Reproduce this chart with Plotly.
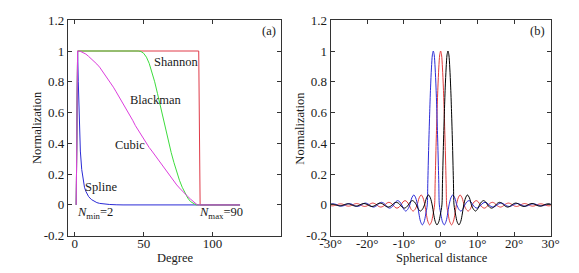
import plotly.graph_objects as go

# ---------------- Panel (a) data ----------------
shannon_deg = [1, 2, 90, 91, 120]
shannon_val = [0, 1, 1, 0, 0]

spline_deg = [1, 2, 2.5, 3, 3.5, 4, 5, 6, 7, 8, 9, 10, 12, 14, 16, 18, 20, 25, 30, 35, 120]
spline_val = [0, 1, 0.8, 0.6, 0.45, 0.35, 0.23, 0.155, 0.115, 0.088, 0.068, 0.054, 0.035,
              0.023, 0.015, 0.01, 0.007, 0.003, 0.001, 0, 0]

blackman_deg = [1, 2, 46, 48, 50, 52, 54, 56, 58, 60, 62, 64, 66, 68, 70, 72, 74, 76, 78,
                80, 82, 84, 86, 88, 120]
blackman_val = [0, 1, 1, 0.997, 0.985, 0.96, 0.92, 0.865, 0.8, 0.725, 0.645, 0.565, 0.485,
                0.41, 0.34, 0.275, 0.215, 0.16, 0.115, 0.075, 0.045, 0.022, 0.008, 0, 0]

cubic_deg = [1, 2, 4, 6, 8, 10, 12, 14, 16, 18, 20, 22, 24, 26, 28, 30, 32, 34, 36, 38, 40,
             42, 44, 46, 48, 50, 52, 54, 56, 58, 60, 62, 64, 66, 68, 70, 72, 74, 76, 78, 80,
             82, 84, 86, 88, 89, 120]
cubic_val = [0, 1, 0.998, 0.99, 0.98, 0.965, 0.95, 0.935, 0.915, 0.895, 0.87, 0.845, 0.82,
             0.795, 0.765, 0.735, 0.705, 0.675, 0.645, 0.61, 0.58, 0.55, 0.515, 0.485, 0.455,
             0.425, 0.398, 0.373, 0.35, 0.325, 0.3, 0.275, 0.25, 0.225, 0.2, 0.178, 0.155,
             0.13, 0.11, 0.09, 0.072, 0.055, 0.038, 0.022, 0.008, 0, 0]

# ---------------- Panel (b) data ----------------
kernel_r = [0, 0.25, 0.5, 0.75, 1.0, 1.25, 1.5, 1.65, 2.1, 2.5, 3.0, 3.5, 3.9, 4.3, 4.8, 5.3,
            5.85, 6.4, 6.95, 7.5, 8.05, 8.6, 9.15, 9.7, 10.25, 10.8, 11.35, 11.9, 12.45, 13.0,
            13.55, 14.1, 14.65, 15.2, 15.75, 16.3, 16.85, 17.4, 17.95, 18.5, 19.05, 19.6,
            20.15, 20.7, 21.25, 21.8, 22.35, 22.9, 23.45, 24.0, 24.55, 25.1, 25.65, 26.2,
            26.75, 27.3, 27.85, 28.4, 28.95, 29.5, 30.05, 30.6, 31.15, 31.7, 32.25, 32.8]
kernel_v = [1.0, 0.975, 0.89, 0.76, 0.585, 0.38, 0.14, 0.0, -0.066, -0.11, -0.13, -0.106,
            -0.059, 0.0, 0.046, 0.065, 0.046, 0.0, -0.028, -0.04, -0.028, 0.0, 0.02, 0.028,
            0.02, 0.0, -0.015, -0.021, -0.015, 0.0, 0.012, 0.017, 0.012, 0.0, -0.01, -0.014,
            -0.01, 0.0, 0.0085, 0.012, 0.0085, 0.0, -0.007, -0.01, -0.007, 0.0, 0.0064, 0.009,
            0.0064, 0.0, -0.0057, -0.008, -0.0057, 0.0, 0.005, 0.007, 0.005, 0.0, -0.0042,
            -0.006, -0.0042, 0.0, 0.0035, 0.005, 0.0035, 0.0]
kernel_centers = [0, -2, 2]
kernel_colors = ["#e03a3a", "#2b2bd6", "#000000"]

y_ticks = [-0.2, 0, 0.2, 0.4, 0.6, 0.8, 1.0, 1.2]
y_ticktext = ["-0.2", "0", "0.2", "0.4", "0.6", "0.8", "1", "1.2"]
xa_ticks = [0, 50, 100]
xa_ticktext = ["0", "50", "100"]
xb_ticks = [-30, -20, -10, 0, 10, 20, 30]
xb_ticktext = ["-30°", "-20°", "-10°", "0°", "10°", "20°", "30°"]

FONT = "Liberation Serif"
TXT = "#1a1a1a"

fig = go.Figure()

# panel (a) traces (order: red, blue, green, magenta)
fig.add_trace(go.Scatter(x=shannon_deg, y=shannon_val, mode="lines",
                         line=dict(color="#e03a48", width=1), xaxis="x", yaxis="y"))
fig.add_trace(go.Scatter(x=spline_deg, y=spline_val, mode="lines",
                         line=dict(color="#2b2bd6", width=1), xaxis="x", yaxis="y"))
fig.add_trace(go.Scatter(x=blackman_deg, y=blackman_val, mode="lines",
                         line=dict(color="#3ddc3d", width=1), xaxis="x", yaxis="y"))
fig.add_trace(go.Scatter(x=cubic_deg, y=cubic_val, mode="lines",
                         line=dict(color="#dd3ddd", width=1), xaxis="x", yaxis="y"))

# panel (b) traces
kx = [-r for r in reversed(kernel_r[1:])] + kernel_r
kv = list(reversed(kernel_v[1:])) + kernel_v
for c, col in zip(kernel_centers, kernel_colors):
    fig.add_trace(go.Scatter(x=[c + r for r in kx], y=kv, mode="lines",
                             line=dict(color=col, width=1, shape="spline", smoothing=0.8),
                             xaxis="x2", yaxis="y2"))

W, H = 579, 273
ydom = [(H - 242) / H, (H - 14) / H]

axis_common = dict(showline=True, linecolor="#333333", linewidth=1, mirror="ticks",
                   ticks="inside", ticklen=4, tickcolor="#333333", showgrid=False,
                   zeroline=False, tickfont=dict(family=FONT, size=13, color=TXT))

fig.update_layout(
    width=W, height=H, margin=dict(l=0, r=0, t=0, b=0),
    paper_bgcolor="white", plot_bgcolor="white", showlegend=False,
    font=dict(family=FONT, size=12.5, color=TXT),
    xaxis=dict(domain=[59 / W, 280 / W], range=[-5, 150], tickvals=xa_ticks,
               ticktext=xa_ticktext, anchor="y", ticklabelstandoff=-4, **axis_common),
    yaxis=dict(domain=ydom, range=[-0.2, 1.2], tickvals=y_ticks, ticktext=y_ticktext,
               anchor="x", **axis_common),
    xaxis2=dict(domain=[331 / W, 559 / W], range=[-30, 30], tickvals=xb_ticks,
                ticktext=xb_ticktext, anchor="y2", ticklabelstandoff=-4, **axis_common),
    yaxis2=dict(domain=ydom, range=[-0.2, 1.2], tickvals=y_ticks, ticktext=y_ticktext,
                anchor="x2", **axis_common),
)

def ann(text, x, y, xref="x", yref="y", size=12.5, **kw):
    fig.add_annotation(text=text, x=x, y=y, xref=xref, yref=yref, showarrow=False,
                       xanchor="center", yanchor="middle", borderpad=0,
                       font=dict(family=FONT, size=size, color=TXT), **kw)

# panel (a) labels
ann("(a)", 140.8, 1.13)
ann("Shannon", 74, 0.93)
ann("Blackman", 58.5, 0.68)
ann("Cubic", 40, 0.39)
ann("Spline", 19, 0.117)
ann("<i>N</i><sub>min</sub>=2", 14.5, -0.055)
ann("<i>N</i><sub>max</sub>=90", 106, -0.055)
# panel (b) label
ann("(b)", 26.4, 1.13, xref="x2", yref="y2")

# axis titles
ann("Normalization", 27 / W, 1 - 128 / H, xref="paper", yref="paper", textangle=-90)
ann("Normalization", 299 / W, 1 - 128 / H, xref="paper", yref="paper", textangle=-90)
ann("Degree", 170 / W, 1 - 265.5 / H, xref="paper", yref="paper")
ann("Spherical distance", 446 / W, 1 - 265.5 / H, xref="paper", yref="paper")

fig.write_html("out.html", config={"displayModeBar": False},
               post_script="document.body.style.margin='0px';")
